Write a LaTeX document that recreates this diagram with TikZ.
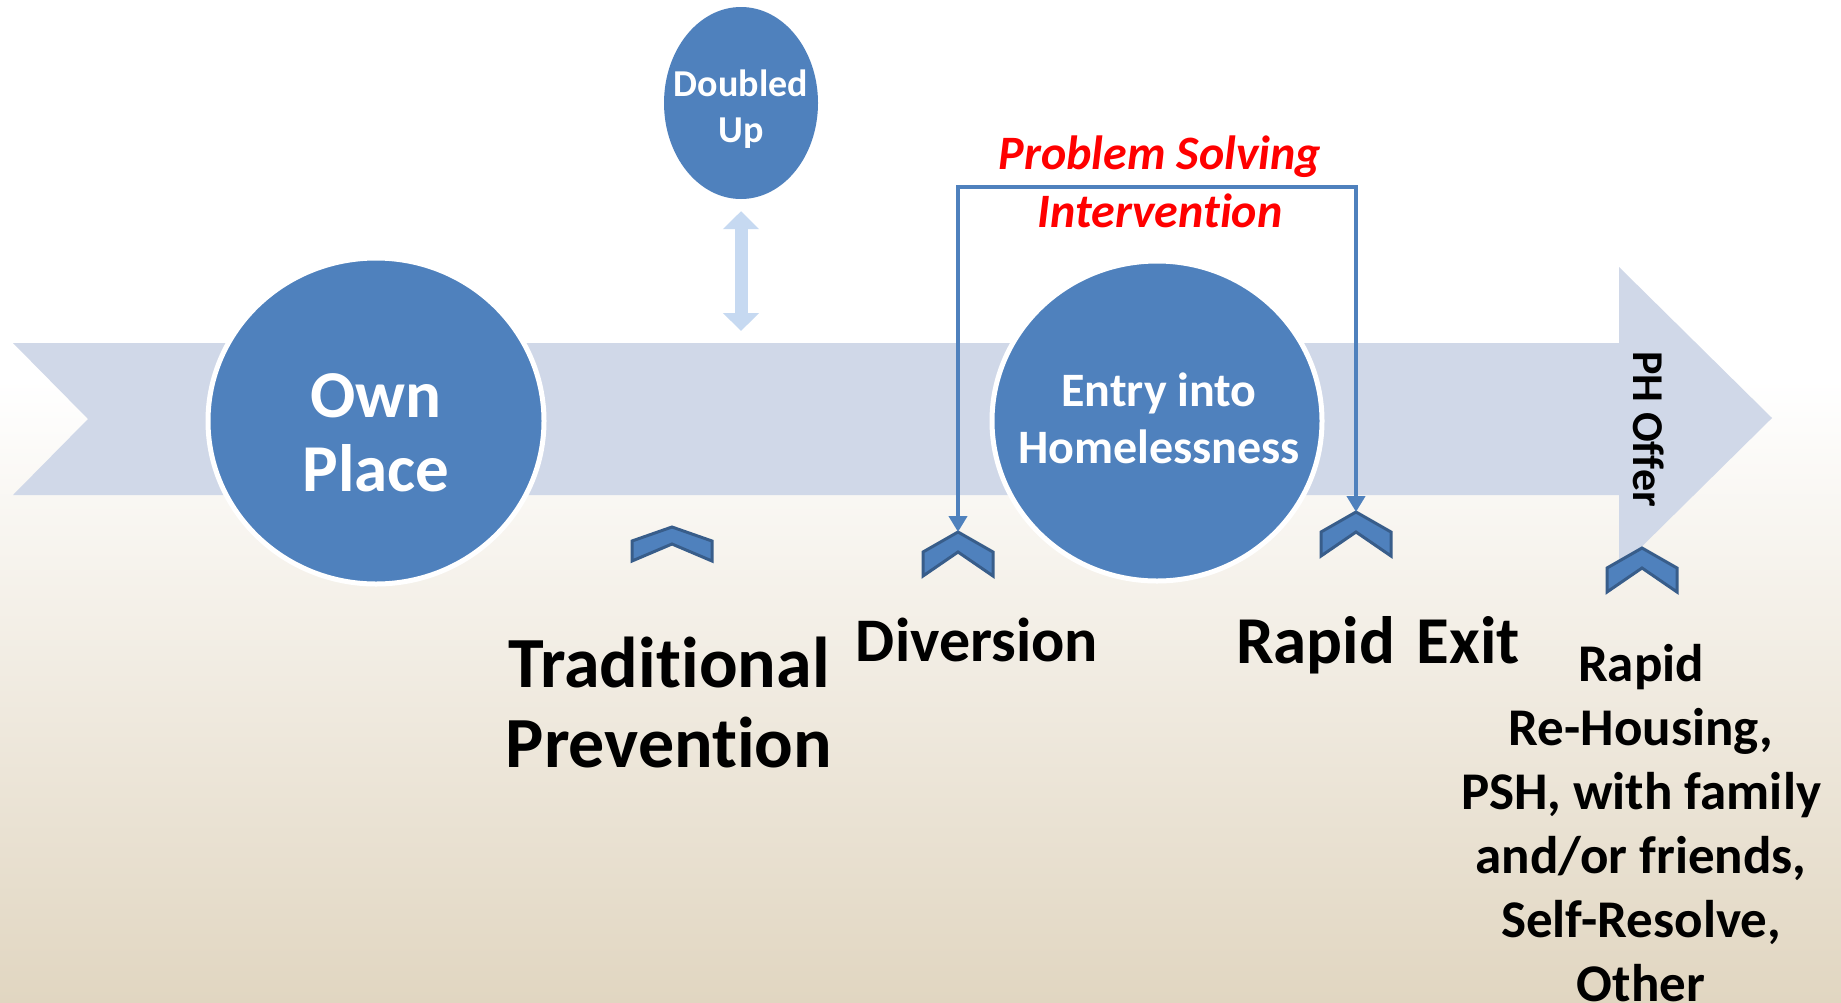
\documentclass[tikz,border=0pt]{standalone}
\usepackage{fontspec}
\setmainfont{Carlito}[Ligatures={NoCommon}]
\usetikzlibrary{shapes.geometric,arrows.meta}
\definecolor{band}{HTML}{D0D8E8}
\definecolor{circ}{HTML}{4F81BD}
\definecolor{chevline}{HTML}{385D8A}
\definecolor{dblarrow}{HTML}{C6D9F1}
\definecolor{beige}{HTML}{E1D6C1}
\tikzset{
  fs/.style 2 args={font=\fontsize{#1}{#2}\selectfont\bfseries},
  bigcirc/.style={ellipse, fill=circ, draw=white, line width=5pt, inner sep=0pt},
  lbl/.style={align=center, inner sep=0pt, text=black},
  chev/.style={fill=circ, draw=chevline, line width=3pt, line join=miter},
  chevron/.pic={\filldraw[chev] (0,0) -- (35,20) -- (35,44) -- (0,20) -- (-35,44) -- (-35,20) -- cycle; \coordinate (-tip) at (0,0);},
  flatchevron/.pic={\filldraw[chev] (0,0) -- (40,14) -- (40,34) -- (0,17) -- (-40,34) -- (-40,14) -- cycle; \coordinate (-tip) at (0,0);},
  bracket/.style={draw=circ, line width=4pt, {Triangle[length=16pt,width=18pt]}-{Triangle[length=16pt,width=18pt]}},
  dbl/.style={draw=dblarrow, line width=13pt, {Triangle[length=18pt,width=35pt]}-{Triangle[length=18pt,width=35pt]}}
}
\begin{document}
\begin{tikzpicture}[x=1pt,y=-1pt]
\useasboundingbox (0,0) rectangle (1841,1002);
\fill[white] (0,0) rectangle (1841,381);
\shade[top color=white,bottom color=beige] (0,380) rectangle (1841,1002);
% main band arrow
\fill[band] (13,343) -- (1619,343) -- (1619,267) -- (1772,418) -- (1619,569) -- (1619,495) -- (13,495) -- (88,419) -- cycle;
% circles
\node[bigcirc, minimum width=336pt, minimum height=326pt] (own) at (376,421) {};
\node[lbl, fs={67}{74}, text=white] (ownlbl) at (376,433) {Own\\Place};
\node[bigcirc, minimum width=330pt, minimum height=320pt] (entry) at (1157,421) {};
\node[lbl, fs={48}{57}, text=white] (entrylbl) at (1159,418) {Entry into\\Homelessness};
\node[ellipse, fill=circ, inner sep=0pt, minimum width=154pt, minimum height=192pt] (du) at (741,103) {};
\node[lbl, fs={38}{46}, text=white] (dulbl) at (741,109) {Doubled\\Up};
\coordinate (dubot) at (741,331);
\draw[dbl, shorten <=12pt] (du.south) -- (dubot);
% chevrons
\pic (trad) at (672,527) {flatchevron};
\pic (div) at (958,532) {chevron};
\pic (exit) at (1356,512) {chevron};
\pic (ph) at (1642,548) {chevron};
% problem solving bracket
\coordinate (bt) at (1157,187);
\draw[bracket] (div-tip) |- (bt) -| (exit-tip);
\node[lbl, text=red, font=\fontsize{48}{58}\selectfont\bfseries\itshape] (psi) at (1160,182) {Problem Solving\\Intervention};
% labels
\node[lbl, rotate=-90, fs={44}{50}] (phlbl) at (1649,429) {PH Offer};
\node[lbl, fs={72}{80}] (tradlbl) at (669,702) {Traditional\\Prevention};
\node[lbl, fs={62}{74}] (divlbl) at (977,640) {Diversion};
\node[lbl, fs={67}{78}, anchor=base] (exitlbl) at (1378,663) {Rapid\hspace{0.32em}Exit};
\node[lbl, fs={53}{64}] (optlbl) at (1641,823) {Rapid\\Re-Housing,\\PSH, with family\\and/or friends,\\Self-Resolve,\\Other};
\end{tikzpicture}
\end{document}
